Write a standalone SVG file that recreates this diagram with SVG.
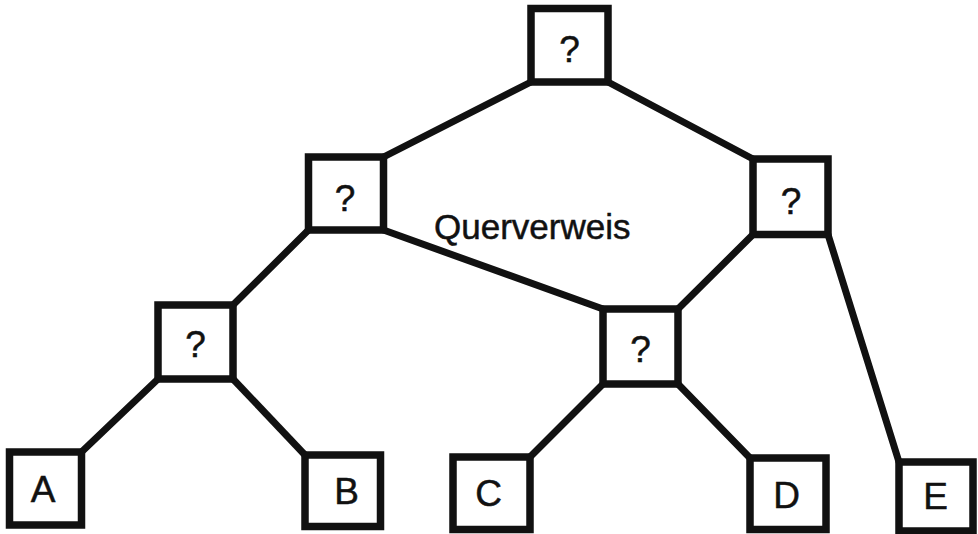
<svg xmlns="http://www.w3.org/2000/svg" width="978" height="534" viewBox="0 0 978 534">
  <style>
    .box { fill: #fff; stroke: #111; stroke-width: 7.5; stroke-linejoin: miter; }
    .edge { stroke: #111; stroke-width: 7; stroke-linecap: round; fill: none; }
    text { font-family: "Liberation Sans", Arial, Helvetica, sans-serif; fill: #111; stroke: #111; stroke-width: 0.5; }
    .q { font-size: 37px; text-anchor: middle; }
    .leaf { font-size: 37px; text-anchor: middle; }
    .lbl { font-size: 35px; }
  </style>
  <rect width="978" height="534" fill="#fff"/>

  <!-- connectors between box corners -->
  <g id="connectors">
    <line class="edge" x1="531" y1="82" x2="383.5" y2="157"/>
    <line class="edge" x1="608" y1="82" x2="753" y2="159"/>
    <line class="edge" x1="383.5" y1="230" x2="603" y2="309"/>
    <line class="edge" x1="308.5" y1="230" x2="233" y2="305"/>
    <line class="edge" x1="753" y1="234.5" x2="678" y2="309"/>
    <line class="edge" x1="828" y1="234.5" x2="899" y2="462"/>
    <line class="edge" x1="158" y1="379" x2="81.5" y2="452"/>
    <line class="edge" x1="233" y1="379" x2="305" y2="455"/>
    <line class="edge" x1="603" y1="384" x2="530" y2="457"/>
    <line class="edge" x1="678" y1="384" x2="750" y2="458"/>
  </g>

  <g id="root">
    <rect class="box" x="531" y="8.5" width="77" height="73.5"/>
    <text class="q" x="569.5" y="62">?</text>
  </g>
  <g id="inner-left">
    <rect class="box" x="308.5" y="157" width="75" height="73"/>
    <text class="q" x="345" y="210.5">?</text>
  </g>
  <g id="inner-right">
    <rect class="box" x="753" y="159" width="75" height="75.5"/>
    <text class="q" x="791" y="214">?</text>
  </g>
  <g id="inner-lower-left">
    <rect class="box" x="158" y="305" width="75" height="74"/>
    <text class="q" x="195.5" y="357">?</text>
  </g>
  <g id="inner-middle">
    <rect class="box" x="603" y="309" width="75" height="75"/>
    <text class="q" x="640.5" y="361.5">?</text>
  </g>

  <g id="leaf-a">
    <rect class="box" x="9.5" y="452" width="72" height="73"/>
    <text class="leaf" x="43" y="502">A</text>
  </g>
  <g id="leaf-b">
    <rect class="box" x="305" y="455" width="75.5" height="71.5"/>
    <text class="leaf" x="346.5" y="503.5">B</text>
  </g>
  <g id="leaf-c">
    <rect class="box" x="453" y="457" width="77" height="72.5"/>
    <text class="leaf" x="488.5" y="506">C</text>
  </g>
  <g id="leaf-d">
    <rect class="box" x="750" y="458" width="76" height="71.5"/>
    <text class="leaf" x="786.5" y="507.5">D</text>
  </g>
  <g id="leaf-e">
    <rect class="box" x="899" y="462" width="74" height="69"/>
    <text class="leaf" x="935.5" y="509">E</text>
  </g>

  <text class="lbl" x="434" y="239">Querverweis</text>
</svg>
